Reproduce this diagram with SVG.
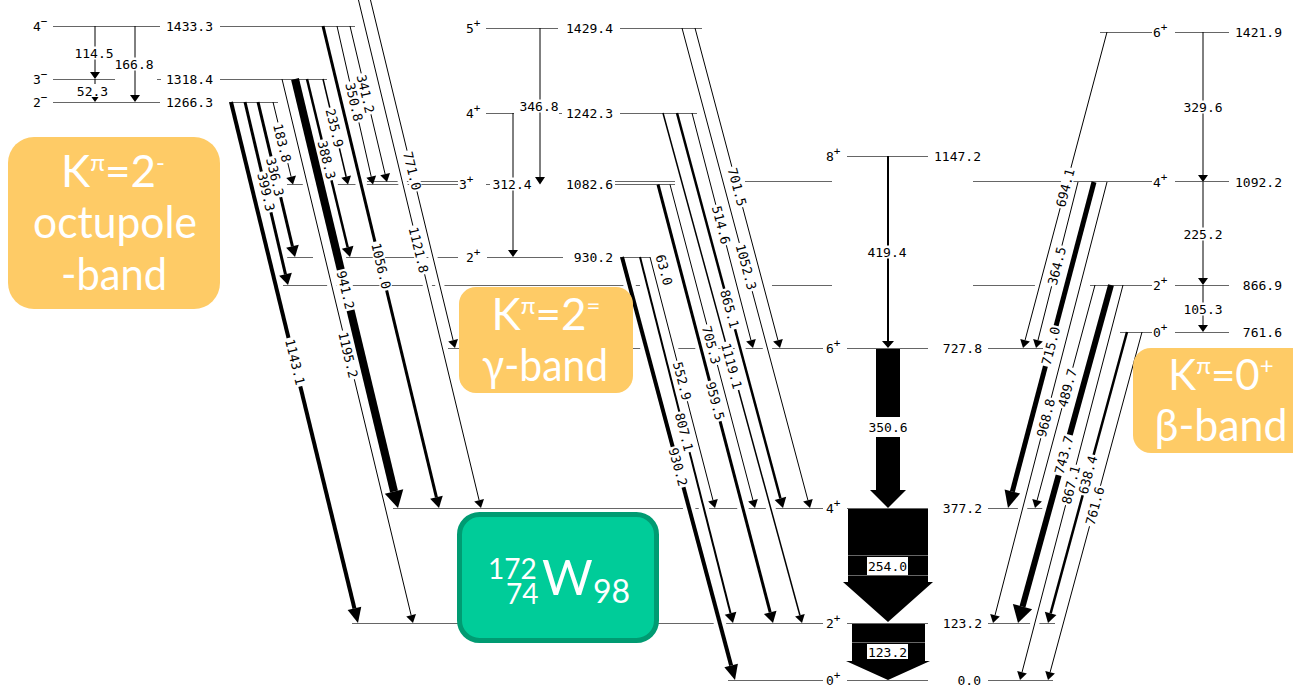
<svg xmlns="http://www.w3.org/2000/svg" width="1293" height="686" viewBox="0 0 1293 686">
<defs>
<style>
.lv{fill:none;stroke:#666;stroke-width:1}
.cs path{fill:none;stroke:#fff}
.tr{fill:none;stroke:#000}
.n{font-family:"DejaVu Sans Mono","Liberation Mono",monospace;font-size:13px;fill:#000}
.m{text-anchor:middle}
.e{text-anchor:end}
.s{font-size:11px}
.bg{fill:#fff}
.bd{font-family:Lato,"Open Sans",sans-serif;fill:#fff;text-anchor:middle}
.ob{fill:#FECB66}
.wt{font-family:Lato,"Open Sans",sans-serif;fill:#fff}
</style>
<marker id="aT" markerUnits="userSpaceOnUse" orient="auto" refX="0" refY="0" markerWidth="20" markerHeight="20" overflow="visible"><path d="M0,-5L8,0L0,5Z"/></marker>
<marker id="aM" markerUnits="userSpaceOnUse" orient="auto" refX="0" refY="0" markerWidth="20" markerHeight="20" overflow="visible"><path d="M0,-6L10,0L0,6Z"/></marker>
<marker id="aM2" markerUnits="userSpaceOnUse" orient="auto" refX="0" refY="0" markerWidth="20" markerHeight="20" overflow="visible"><path d="M0,-6.5L11,0L0,6.5Z"/></marker>
<marker id="aK" markerUnits="userSpaceOnUse" orient="auto" refX="0" refY="0" markerWidth="20" markerHeight="20" overflow="visible"><path d="M0,-7L15,0L0,7Z"/></marker>
<marker id="aB" markerUnits="userSpaceOnUse" orient="auto" refX="0" refY="0" markerWidth="20" markerHeight="20" overflow="visible"><path d="M0,-8L17,0L0,8Z"/></marker>
<marker id="aB2" markerUnits="userSpaceOnUse" orient="auto" refX="0" refY="0" markerWidth="20" markerHeight="20" overflow="visible"><path d="M0,-10L17,0L0,10Z"/></marker>
<marker id="aH" markerUnits="userSpaceOnUse" orient="auto" refX="0" refY="0" markerWidth="20" markerHeight="20" overflow="visible"><path d="M0,-9.5L17,0L0,9.5Z"/></marker>
</defs>
<rect width="1293" height="686" fill="#fff"/>

<!-- levels -->
<g id="L1433"><path class="lv" d="M53,26.5H160M220,26.5H355"/><text class="n" x="33" y="31">4<tspan class="s" dy="-6">−</tspan></text><text class="n e" x="213" y="31">1433.3</text></g>
<g id="L1318"><path class="lv" d="M53,79.5H115M157,79.5H161M220,79.5H327"/><text class="n" x="33" y="84">3<tspan class="s" dy="-6">−</tspan></text><text class="n e" x="213" y="84">1318.4</text></g>
<g id="L1266"><path class="lv" d="M53,102.5H160M229,102.5H278"/><text class="n" x="33" y="107">2<tspan class="s" dy="-6">−</tspan></text><text class="n e" x="213" y="107">1266.3</text></g>
<g id="L1429"><path class="lv" d="M486,28.5H558M620,28.5H702"/><text class="n" x="466" y="33">5<tspan class="s" dy="-6">+</tspan></text><text class="n e" x="613" y="33">1429.4</text></g>
<g id="L1242"><path class="lv" d="M486,113.5H514M559,113.5H562M620,113.5H697"/><text class="n" x="466" y="118">4<tspan class="s" dy="-6">+</tspan></text><text class="n e" x="613" y="118">1242.3</text></g>
<g id="L1083"><path class="lv" d="M287,184.5H458M486,184.5H490M615,184.5H675"/><text class="n" x="459" y="189">3<tspan class="s" dy="-6">+</tspan></text><text class="n e" x="613" y="189">1082.6</text></g>
<g id="L930"><path class="lv" d="M287,257.5H313M342,257.5H458M487,257.5H563M620,257.5H650"/><text class="n" x="466" y="262">2<tspan class="s" dy="-6">+</tspan></text><text class="n e" x="613" y="262">930.2</text></g>
<g id="L1422"><path class="lv" d="M1100,32.5H1152M1175,32.5H1229"/><text class="n" x="1153" y="37">6<tspan class="s" dy="-6">+</tspan></text><text class="n e" x="1282" y="37">1421.9</text></g>
<g id="L1092"><path class="lv" d="M367,181.5H458M615,181.5H675M745,181.5H832M973,181.5H1152M1175,181.5H1229"/><text class="n" x="1153" y="187">4<tspan class="s" dy="-6">+</tspan></text><text class="n e" x="1282" y="187">1092.2</text></g>
<g id="L867"><path class="lv" d="M283,285.5H640M772,285.5H832M973,285.5H1037M1090,285.5H1152M1175,285.5H1229"/><text class="n" x="1153" y="290">2<tspan class="s" dy="-6">+</tspan></text><text class="n e" x="1282" y="290">866.9</text></g>
<g id="L762"><path class="lv" d="M1120,332.5H1152M1175,332.5H1229"/><text class="n" x="1153" y="337">0<tspan class="s" dy="-6">+</tspan></text><text class="n e" x="1282" y="337">761.6</text></g>
<g id="L1147"><path class="lv" d="M847,156.5H928"/><text class="n" x="826" y="161">8<tspan class="s" dy="-6">+</tspan></text><text class="n e" x="981" y="161">1147.2</text></g>
<g id="L728"><path class="lv" d="M448,348.5H459M632,348.5H647M676,348.5H823M847,348.5H928M988,348.5H1043"/><text class="n" x="826" y="353">6<tspan class="s" dy="-6">+</tspan></text><text class="n e" x="982" y="353">727.8</text></g>
<g id="L377"><path class="lv" d="M393,508.5H823M847,508.5H928M988,508.5H1043"/><text class="n" x="826" y="513">4<tspan class="s" dy="-6">+</tspan></text><text class="n e" x="982" y="513">377.2</text></g>
<g id="L123"><path class="lv" d="M352,623.5H823M847,623.5H928M988,623.5H1055"/><text class="n" x="826" y="628">2<tspan class="s" dy="-6">+</tspan></text><text class="n e" x="982" y="628">123.2</text></g>
<g id="L0"><path class="lv" d="M728,680.5H823M847,680.5H928M988,680.5H1053"/><text class="n" x="826" y="685">0<tspan class="s" dy="-6">+</tspan></text><text class="n e" x="981" y="685">0.0</text></g>

<g id="connectors">
<g class="cs">
<path stroke-width="12" d="M232.4,107.8L354.45,608.43"/>
<path stroke-width="11" d="M246.4,107.8L285.48,274.29"/>
<path stroke-width="11" d="M259.4,107.8L292.45,246.3"/>
<path stroke-width="9" d="M274.4,107.8L291.12,176.73"/>
<path stroke-width="9" d="M283.4,84.8L411.13,615.22"/>
<path stroke-width="16" d="M296.4,84.8L394.03,491.47"/>
<path stroke-width="10.5" d="M308.4,84.8L347.65,247.28"/>
<path stroke-width="9.5" d="M324.4,84.8L346.16,176.72"/>
<path stroke-width="11" d="M324.4,31.8L436.43,497.31"/>
<path stroke-width="9" d="M338.3,31.9L371.23,176.7"/>
<path stroke-width="9" d="M351.4,31.8L385.15,174.22"/>
<path stroke-width="9" d="M358,-2L479.12,500.22"/>
<path stroke-width="9" d="M370,-2L453.11,340.23"/>
<path stroke-width="9" d="M683.5,33.8L807.94,500.27"/>
<path stroke-width="9" d="M696.5,33.8L777.95,340.27"/>
<path stroke-width="9.5" d="M664.6,118.8L799.9,615.28"/>
<path stroke-width="10.5" d="M678.6,118.8L780.41,498.34"/>
<path stroke-width="9" d="M693.5,118.8L750.99,340.26"/>
<path stroke-width="11" d="M659.5,190.3L770.21,612.36"/>
<path stroke-width="9" d="M671.5,190.3L752.97,500.26"/>
<path stroke-width="12" d="M623.5,262.8L731.13,665.51"/>
<path stroke-width="10" d="M641.5,262.8L730.54,613.31"/>
<path stroke-width="9" d="M651.5,262.8L712.99,500.26"/>
<path stroke-width="9" d="M1105.5,37.8L1025.06,340.27"/>
<path stroke-width="9" d="M1076.5,187.8L1037.96,340.24"/>
<path stroke-width="13" d="M1092.5,187.8L1012.34,491.56"/>
<path stroke-width="9" d="M1105.5,187.8L995,615.25"/>
<path stroke-width="9" d="M1093.4,290.8L1037.08,500.27"/>
<path stroke-width="14" d="M1109.4,290.8L1022.51,606.61"/>
<path stroke-width="9" d="M1121.5,290.8L1022.02,672.26"/>
<path stroke-width="10.5" d="M1125.4,337.8L1050.62,613.35"/>
<path stroke-width="9" d="M1140.4,337.8L1050.09,672.28"/>
</g>
<g id="gammas">
<path class="tr" stroke-width="4" marker-end="url(#aK)" d="M231,102L354.45,608.43"/>
<path class="tr" stroke-width="3" marker-end="url(#aM2)" d="M245,102L285.48,274.29"/>
<path class="tr" stroke-width="3" marker-end="url(#aM2)" d="M258,102L292.45,246.3"/>
<path class="tr" stroke-width="1" marker-end="url(#aT)" d="M273,102L291.12,176.73"/>
<path class="tr" stroke-width="1" marker-end="url(#aT)" d="M282,79L411.13,615.22"/>
<path class="tr" stroke-width="8" marker-end="url(#aH)" d="M295,79L394.03,491.47"/>
<path class="tr" stroke-width="2.5" marker-end="url(#aM)" d="M307,79L347.65,247.28"/>
<path class="tr" stroke-width="1.5" marker-end="url(#aT)" d="M323,79L346.16,176.72"/>
<path class="tr" stroke-width="3" marker-end="url(#aM2)" d="M323,26L436.43,497.31"/>
<path class="tr" stroke-width="1" marker-end="url(#aT)" d="M337,26L371.23,176.7"/>
<path class="tr" stroke-width="1" marker-end="url(#aT)" d="M350,26L385.15,174.22"/>
<path class="tr" stroke-width="1" marker-end="url(#aT)" d="M358,-2L479.12,500.22"/>
<path class="tr" stroke-width="1" marker-end="url(#aT)" d="M370,-2L453.11,340.23"/>
<path class="tr" stroke-width="1" marker-end="url(#aT)" d="M682,28L807.94,500.27"/>
<path class="tr" stroke-width="1" marker-end="url(#aT)" d="M695,28L777.95,340.27"/>
<path class="tr" stroke-width="1.5" marker-end="url(#aT)" d="M663,113L799.9,615.28"/>
<path class="tr" stroke-width="2.5" marker-end="url(#aM)" d="M677,113L780.41,498.34"/>
<path class="tr" stroke-width="1" marker-end="url(#aT)" d="M692,113L750.99,340.26"/>
<path class="tr" stroke-width="3" marker-end="url(#aM2)" d="M658,184.5L770.21,612.36"/>
<path class="tr" stroke-width="1" marker-end="url(#aT)" d="M670,184.5L752.97,500.26"/>
<path class="tr" stroke-width="4" marker-end="url(#aK)" d="M622,257L731.13,665.51"/>
<path class="tr" stroke-width="2" marker-end="url(#aM)" d="M640,257L730.54,613.31"/>
<path class="tr" stroke-width="1" marker-end="url(#aT)" d="M650,257L712.99,500.26"/>
<path class="tr" stroke-width="1" marker-end="url(#aT)" d="M1107,32L1025.06,340.27"/>
<path class="tr" stroke-width="1" marker-end="url(#aT)" d="M1078,182L1037.96,340.24"/>
<path class="tr" stroke-width="5" marker-end="url(#aB)" d="M1094,182L1012.34,491.56"/>
<path class="tr" stroke-width="1" marker-end="url(#aT)" d="M1107,182L995,615.25"/>
<path class="tr" stroke-width="1" marker-end="url(#aT)" d="M1095,285L1037.08,500.27"/>
<path class="tr" stroke-width="6" marker-end="url(#aB2)" d="M1111,285L1022.51,606.61"/>
<path class="tr" stroke-width="1" marker-end="url(#aT)" d="M1123,285L1022.02,672.26"/>
<path class="tr" stroke-width="2.5" marker-end="url(#aM)" d="M1127,332L1050.62,613.35"/>
<path class="tr" stroke-width="1" marker-end="url(#aT)" d="M1142,332L1050.09,672.28"/>
<path class="tr" stroke-width="1" d="M95,26V72M135,26V95M95,79V95M540,28V177M513,113V250M1203,32V175M1203,182V278M1203,285V325"/>
<path class="tr" stroke-width="2" d="M888,156V341"/>
<path d="M90,72H100L95,79ZM130,95H140L135,102ZM90,95H100L95,102ZM535,177H545L540,184.5ZM508,250H518L513,257ZM1198,175H1208L1203,182ZM1198,278H1208L1203,285ZM1198,325H1208L1203,332ZM882,341H894L888,348Z"/>
<path d="M876,349H900V490H906L888,508L870,490H876Z"/>
<path d="M848,509H928V582H933L888,622L843,582H848Z"/>
<path d="M852,624H925V661H930L888,680L846,661H852Z"/>
<path class="lv" d="M848,555.5H928M848,575.5H928M852,642.5H925"/>
</g>
<g id="labels">
<g transform="translate(295,362) rotate(76.3)"><rect class="bg" x="-25" y="-6" width="50" height="12"/><text class="n m" y="4.5">1143.1</text></g>
<g transform="translate(266,192) rotate(76.8)"><rect class="bg" x="-21" y="-6" width="42" height="12"/><text class="n m" y="4.5">399.3</text></g>
<g transform="translate(275,177) rotate(76.6)"><rect class="bg" x="-21" y="-6" width="42" height="12"/><text class="n m" y="4.5">336.3</text></g>
<g transform="translate(282,143) rotate(76.4)"><rect class="bg" x="-21" y="-6" width="42" height="12"/><text class="n m" y="4.5">183.8</text></g>
<g transform="translate(348,355) rotate(76.5)"><rect class="bg" x="-25" y="-6" width="50" height="12"/><text class="n m" y="4.5">1195.2</text></g>
<g transform="translate(345.5,290) rotate(76.5)"><rect class="bg" x="-21" y="-6" width="42" height="12"/><text class="n m" y="4.5">941.2</text></g>
<g transform="translate(326.5,160) rotate(76.4)"><rect class="bg" x="-21" y="-6" width="42" height="12"/><text class="n m" y="4.5">388.3</text></g>
<g transform="translate(334.5,128) rotate(76.7)"><rect class="bg" x="-21" y="-6" width="42" height="12"/><text class="n m" y="4.5">235.9</text></g>
<g transform="translate(381,266) rotate(76.5)"><rect class="bg" x="-25" y="-6" width="50" height="12"/><text class="n m" y="4.5">1056.0</text></g>
<g transform="translate(354,102) rotate(77.2)"><rect class="bg" x="-21" y="-5.5" width="42" height="11"/><text class="n m" y="4.5">350.8</text></g>
<g transform="translate(365.5,94) rotate(76.7)"><rect class="bg" x="-21" y="-5.5" width="42" height="11"/><text class="n m" y="4.5">341.2</text></g>
<g transform="translate(418.5,250) rotate(76.4)"><rect class="bg" x="-25" y="-6" width="50" height="12"/><text class="n m" y="4.5">1121.8</text></g>
<g transform="translate(412,171) rotate(76.3)"><rect class="bg" x="-21" y="-6" width="42" height="12"/><text class="n m" y="4.5">771.0</text></g>
<g transform="translate(746,267) rotate(75.1)"><rect class="bg" x="-25" y="-6" width="50" height="12"/><text class="n m" y="4.5">1052.3</text></g>
<g transform="translate(737,187) rotate(75.1)"><rect class="bg" x="-21" y="-6" width="42" height="12"/><text class="n m" y="4.5">701.5</text></g>
<g transform="translate(731.5,366) rotate(74.75)"><rect class="bg" x="-25" y="-6" width="50" height="12"/><text class="n m" y="4.5">1119.1</text></g>
<g transform="translate(729.5,309) rotate(75)"><rect class="bg" x="-21" y="-6" width="42" height="12"/><text class="n m" y="4.5">865.1</text></g>
<g transform="translate(721,225) rotate(75.4)"><rect class="bg" x="-21" y="-6" width="42" height="12"/><text class="n m" y="4.5">514.6</text></g>
<g transform="translate(715,401) rotate(75.3)"><rect class="bg" x="-21" y="-6" width="42" height="12"/><text class="n m" y="4.5">959.5</text></g>
<g transform="translate(711,345) rotate(75.3)"><rect class="bg" x="-21" y="-6" width="42" height="12"/><text class="n m" y="4.5">705.3</text></g>
<g transform="translate(678,467) rotate(75)"><rect class="bg" x="-21" y="-6" width="42" height="12"/><text class="n m" y="4.5">930.2</text></g>
<g transform="translate(684,432) rotate(75.7)"><rect class="bg" x="-21" y="-6" width="42" height="12"/><text class="n m" y="4.5">807.1</text></g>
<g transform="translate(682,381) rotate(75.5)"><rect class="bg" x="-21" y="-6" width="42" height="12"/><text class="n m" y="4.5">552.9</text></g>
<g transform="translate(664,270) rotate(75)"><rect class="bg" x="-17" y="-6" width="34" height="12"/><text class="n m" y="4.5">63.0</text></g>
<g transform="translate(1065.5,188) rotate(-75.1)"><rect class="bg" x="-21" y="-6" width="42" height="12"/><text class="n m" y="4.5">694.1</text></g>
<g transform="translate(1057,266) rotate(-75.8)"><rect class="bg" x="-21" y="-6" width="42" height="12"/><text class="n m" y="4.5">364.5</text></g>
<g transform="translate(1051,346) rotate(-75.2)"><rect class="bg" x="-21" y="-6" width="42" height="12"/><text class="n m" y="4.5">715.0</text></g>
<g transform="translate(1046,418) rotate(-75.5)"><rect class="bg" x="-21" y="-6" width="42" height="12"/><text class="n m" y="4.5">968.8</text></g>
<g transform="translate(1067.5,388) rotate(-74.9)"><rect class="bg" x="-21" y="-6" width="42" height="12"/><text class="n m" y="4.5">489.7</text></g>
<g transform="translate(1064,455) rotate(-74.6)"><rect class="bg" x="-21" y="-6" width="42" height="12"/><text class="n m" y="4.5">743.7</text></g>
<g transform="translate(1071,485) rotate(-75.4)"><rect class="bg" x="-21" y="-6" width="42" height="12"/><text class="n m" y="4.5">867.1</text></g>
<g transform="translate(1088,475) rotate(-74.8)"><rect class="bg" x="-21" y="-6" width="42" height="12"/><text class="n m" y="4.5">638.4</text></g>
<g transform="translate(1095,506) rotate(-74.9)"><rect class="bg" x="-21" y="-6" width="42" height="12"/><text class="n m" y="4.5">761.6</text></g>
<rect class="bg" x="73" y="46.5" width="42" height="13"/><text class="n m" x="94" y="57.5">114.5</text>
<rect class="bg" x="113" y="57.5" width="42" height="13"/><text class="n m" x="134" y="68.5">166.8</text>
<rect class="bg" x="75" y="84" width="35" height="13"/><text class="n m" x="92.5" y="95.5">52.3</text>
<rect class="bg" x="518" y="99.5" width="42" height="13"/><text class="n m" x="539" y="110.5">346.8</text>
<rect class="bg" x="491" y="177.5" width="42" height="13"/><text class="n m" x="512" y="188.5">312.4</text>
<rect class="bg" x="866" y="245.5" width="42" height="13"/><text class="n m" x="887" y="256.5">419.4</text>
<rect class="bg" x="866" y="417" width="44" height="20"/><text class="n m" x="888" y="431.5">350.6</text>
<rect class="bg" x="867" y="557" width="41" height="18"/><text class="n m" x="887.5" y="570.5">254.0</text>
<rect class="bg" x="867" y="644" width="41" height="15"/><text class="n m" x="887.5" y="656.5">123.2</text>
<rect class="bg" x="1182" y="100.5" width="42" height="13"/><text class="n m" x="1203" y="111.5">329.6</text>
<rect class="bg" x="1182" y="227.5" width="42" height="13"/><text class="n m" x="1203" y="238.5">225.2</text>
<rect class="bg" x="1182" y="302.5" width="42" height="13"/><text class="n m" x="1203" y="313.5">105.3</text>
</g>
</g>

<g id="band-octupole"><rect class="ob" x="8" y="137" width="212" height="172" rx="26"/>
<text class="bd" x="113" y="187" font-size="44">K<tspan font-size="24" dy="-16">π</tspan><tspan dy="16">=2</tspan><tspan font-size="24" dy="-16">-</tspan></text>
<text class="bd" x="115" y="238" font-size="44" textLength="164" lengthAdjust="spacingAndGlyphs">octupole</text>
<text class="bd" x="114" y="290" font-size="44" textLength="106" lengthAdjust="spacingAndGlyphs">-band</text></g>
<g id="band-gamma"><rect class="ob" x="459" y="287" width="174" height="106" rx="17"/>
<text class="bd" x="546" y="330" font-size="44">K<tspan font-size="24" dy="-16">π</tspan><tspan dy="16">=2</tspan><tspan font-size="24" dy="-16">=</tspan></text>
<text class="bd" x="545" y="381" font-size="44" textLength="126" lengthAdjust="spacingAndGlyphs">γ-band</text></g>
<g id="band-beta"><rect class="ob" x="1133" y="348" width="180" height="105" rx="18"/>
<text class="bd" x="1221" y="390" font-size="42">K<tspan font-size="24" dy="-16">π</tspan><tspan dy="16">=0</tspan><tspan font-size="24" dy="-16">+</tspan></text>
<text class="bd" x="1221" y="441" font-size="44" textLength="133" lengthAdjust="spacingAndGlyphs">β-band</text></g>
<g id="nucleus"><rect x="459.5" y="514.5" width="197" height="126" rx="20" fill="#00CC99" stroke="#009B72" stroke-width="5"/>
<text class="wt" x="488" y="579" font-size="28">172</text>
<text class="wt" x="506" y="604" font-size="28">74</text>
<text class="wt" x="542" y="595" font-size="49">W</text>
<text class="wt" x="593" y="603" font-size="32">98</text></g>
</svg>
